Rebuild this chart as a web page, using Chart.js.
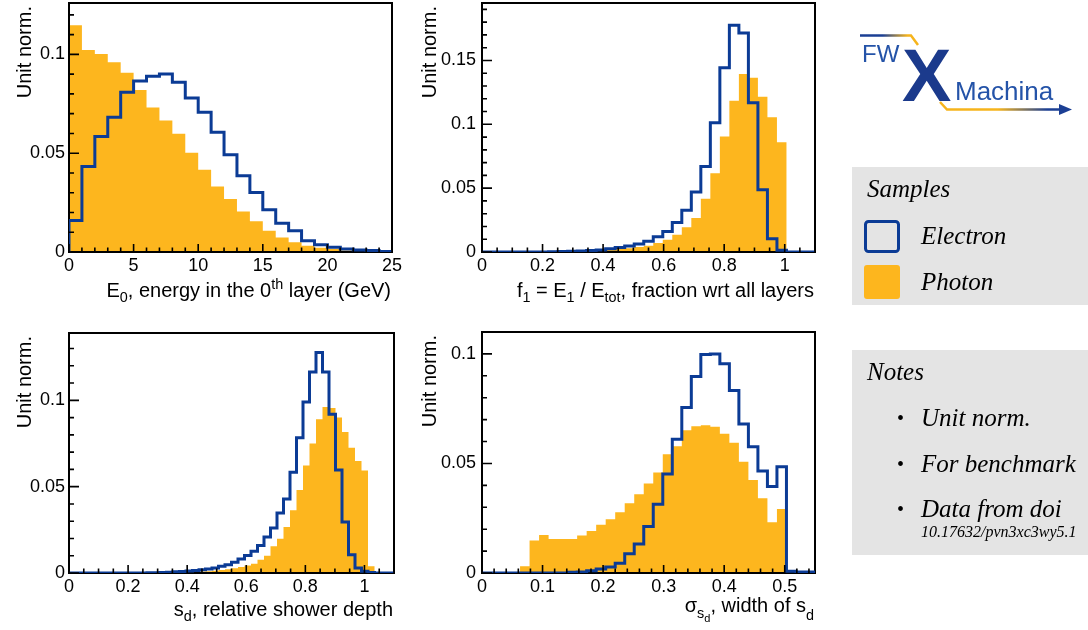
<!DOCTYPE html>
<html>
<head>
<meta charset="utf-8">
<title>Electron / photon shower variables</title>
<script src="https://cdn.jsdelivr.net/npm/chart.js@4.4.1/dist/chart.umd.min.js"></script>
<style>
  html, body { margin: 0; padding: 0; background: #fff; }
  #page { position: relative; width: 1088px; height: 630px; overflow: hidden; }
  canvas { position: absolute; }
  #side { position: absolute; left: 0; top: 0; }
  #side .leg { font-family: 'Liberation Serif', 'Times New Roman', serif; font-style: italic; font-size: 25px; fill: #000; }
  #side .dot { font-family: 'Liberation Serif', serif; font-size: 20px; fill: #000; }
  #side .doi { font-family: 'Liberation Serif', serif; font-style: italic; font-size: 16px; fill: #000; }
  #side .logo { font-family: 'Liberation Sans', Arial, sans-serif; }
</style>
</head>
<body>
<div id="page">
  <canvas id="p1" width="410" height="310" style="left:0;top:0"></canvas>
  <canvas id="p2" width="410" height="310" style="left:410px;top:0"></canvas>
  <canvas id="p3" width="410" height="320" style="left:0;top:310px"></canvas>
  <canvas id="p4" width="410" height="320" style="left:410px;top:310px"></canvas>

  <svg id="side" width="1088" height="630">
    <defs>
      <linearGradient id="topFade" gradientUnits="userSpaceOnUse" x1="860" y1="0" x2="916" y2="0">
        <stop offset="0" stop-color="#1b3f94"/>
        <stop offset="0.4" stop-color="#1b3f94"/>
        <stop offset="0.85" stop-color="#f6b41c"/>
      </linearGradient>
      <linearGradient id="bottomFade" gradientUnits="userSpaceOnUse" x1="942" y1="0" x2="1066" y2="0">
        <stop offset="0" stop-color="#f6b41c"/>
        <stop offset="0.45" stop-color="#f6b41c"/>
        <stop offset="0.85" stop-color="#1b3f94"/>
      </linearGradient>
    </defs>
    <g class="logo">
      <polyline points="860,35.5 911,35.5 918,45" fill="none" stroke="url(#topFade)" stroke-width="2.5"/>
      <polyline points="940,102 947,109.5 1062,109.5" fill="none" stroke="url(#bottomFade)" stroke-width="2.5"/>
      <polygon points="1059,104 1072,109.5 1059,115" fill="#1b3f94"/>
      <text x="862" y="62" font-size="24" fill="#2453a8">FW</text>
      <text x="902" y="101" font-size="74" font-weight="bold" fill="#1b3a8c">X</text>
      <text x="955" y="100" font-size="26" fill="#2453a8">Machina</text>
    </g>

    <rect x="852" y="167" width="236" height="138" fill="#e4e4e4"/>
    <text class="leg" x="867" y="197">Samples</text>
    <rect x="865.5" y="221.5" width="33" height="30" rx="3" fill="none" stroke="#0b3b95" stroke-width="3"/>
    <text class="leg" x="921" y="244">Electron</text>
    <rect x="864" y="265" width="36" height="34" rx="3" fill="#fdb61e"/>
    <text class="leg" x="921" y="290">Photon</text>

    <rect x="852" y="350" width="236" height="205" fill="#e4e4e4"/>
    <text class="leg" x="867" y="380">Notes</text>
    <text class="dot" x="897" y="425">•</text>
    <text class="leg" x="921" y="426">Unit norm.</text>
    <text class="dot" x="897" y="471">•</text>
    <text class="leg" x="921" y="472">For benchmark</text>
    <text class="dot" x="897" y="516">•</text>
    <text class="leg" x="921" y="517">Data from doi</text>
    <text class="doi" x="921" y="537">10.17632/pvn3xc3wy5.1</text>
  </svg>
</div>

<script>
'use strict';

// E0, energy in the 0th layer (GeV): 25 bins over [0, 25]
var e0Range = [0, 25];
var e0Electron = [0.0160, 0.0433, 0.0584, 0.0682, 0.0808, 0.0865, 0.0889, 0.0901, 0.0859, 0.0779,
  0.0707, 0.0606, 0.0492, 0.0386, 0.0301, 0.0214, 0.0146, 0.0108, 0.0057, 0.0037,
  0.0024, 0.0015, 0.0010, 0.0007, 0.0003];
var e0Photon = [0.1148, 0.1022, 0.1002, 0.0960, 0.0907, 0.0820, 0.0731, 0.0665, 0.0598, 0.0502,
  0.0416, 0.0332, 0.0268, 0.0205, 0.0155, 0.0108, 0.0074, 0.0049, 0.0032, 0.0022,
  0.0015, 0.0008, 0.0005, 0.0003, 0.0002];

// f1 = E1 / Etot: 35 bins over [0, 1.1]
var f1Range = [0, 1.1];
var f1Electron = [0, 0, 0, 0, 0, 0, 0, 0.0002, 0.0004, 0.0006,
  0.0008, 0.0011, 0.0015, 0.0025, 0.0035, 0.0047, 0.0062, 0.0085, 0.0120, 0.0161,
  0.0232, 0.0326, 0.0469, 0.0669, 0.1013, 0.1443, 0.1776, 0.1716, 0.1169, 0.0487,
  0.0104, 0.0013, 0, 0, 0];
var f1Photon = [0, 0, 0, 0, 0, 0, 0, 0, 0, 0,
  0.0004, 0.0007, 0.0010, 0.0016, 0.0025, 0.0030, 0.0039, 0.0049, 0.0070, 0.0096,
  0.0135, 0.0193, 0.0266, 0.0417, 0.0617, 0.0904, 0.1185, 0.1393, 0.1365, 0.1216,
  0.1055, 0.0859, 0, 0, 0];

// sd, relative shower depth: 50 bins over [0, 1.1]
var sdRange = [0, 1.1];
var sdElectron = [0, 0, 0, 0, 0, 0, 0, 0, 0, 0,
  0, 0, 0.0001, 0.0002, 0.0003, 0.0005, 0.0007, 0.0009, 0.0012, 0.0015,
  0.0019, 0.0023, 0.0029, 0.0039, 0.0048, 0.0062, 0.0081, 0.0101, 0.0126, 0.0159,
  0.0209, 0.0261, 0.0348, 0.0429, 0.0584, 0.0783, 0.0990, 0.1164, 0.1277, 0.1164,
  0.0919, 0.0596, 0.0296, 0.0106, 0.0029, 0.0010, 0.0003, 0, 0, 0];
var sdPhoton = [0, 0, 0, 0, 0, 0, 0, 0, 0, 0,
  0, 0, 0, 0, 0, 0, 0, 0, 0.0003, 0.0005,
  0.0008, 0.0010, 0.0013, 0.0017, 0.0022, 0.0028, 0.0035, 0.0044, 0.0054, 0.0077,
  0.0100, 0.0155, 0.0199, 0.0267, 0.0364, 0.0480, 0.0623, 0.0750, 0.0890, 0.0961,
  0.0955, 0.0901, 0.0816, 0.0725, 0.0648, 0.0594, 0.0039, 0, 0, 0];

// sigma_sd, width of sd: 35 bins over [0, 0.55]
var sigRange = [0, 0.55];
var sigElectron = [0, 0, 0, 0, 0, 0, 0, 0, 0, 0.0003,
  0.0005, 0.0010, 0.0018, 0.0027, 0.0045, 0.0088, 0.0132, 0.0212, 0.0314, 0.0452,
  0.0611, 0.0755, 0.0897, 0.0997, 0.1000, 0.0955, 0.0833, 0.0680, 0.0576, 0.0466,
  0.0395, 0.0485, 0.0008, 0.0005, 0.0004];
var sigPhoton = [0, 0, 0, 0, 0.0031, 0.0148, 0.0174, 0.0155, 0.0155, 0.0155,
  0.0171, 0.0192, 0.0220, 0.0245, 0.0277, 0.0318, 0.0359, 0.0409, 0.0459, 0.0542,
  0.0579, 0.0652, 0.0670, 0.0674, 0.0668, 0.0636, 0.0594, 0.0508, 0.0424, 0.0341,
  0.0232, 0.0292, 0, 0, 0];

// axis titles: [text, size factor, baseline shift]
var e0Title = [['E', 1, 0], ['0', 0.72, 5], [', energy in the 0', 1, 0], ['th', 0.72, -8], [' layer (GeV)', 1, 0]];
var f1Title = [['f', 1, 0], ['1', 0.72, 5], [' = E', 1, 0], ['1', 0.72, 5], [' / E', 1, 0], ['tot', 0.72, 5], [', fraction wrt all layers', 1, 0]];
var sdTitle = [['s', 1, 0], ['d', 0.72, 5], [', relative shower depth', 1, 0]];
var sigTitle = [['σ', 1, 0], ['s', 0.72, 6], ['d', 0.55, 10], [', width of s', 1, 0], ['d', 0.72, 8]];

var electronColor = '#0b3b95';
var photonColor = '#fdb61e';
var FONT = "'Liberation Sans', Arial, sans-serif";

Chart.defaults.font.family = FONT;
Chart.defaults.font.size = 18;
Chart.defaults.color = '#000';

// outline points for a stepped histogram: start and end on the baseline
function histPoints(values, range) {
  var width = (range[1] - range[0]) / values.length;
  var pts = [{x: range[0], y: 0}];
  for (var i = 0; i < values.length; i++) {
    pts.push({x: range[0] + i * width, y: values[i]});
  }
  pts.push({x: range[1], y: 0});
  return pts;
}

function drawRich(ctx, segs, right, base, size) {
  var widths = [];
  var total = 0;
  segs.forEach(function (s) {
    ctx.font = (size * s[1]) + 'px ' + FONT;
    var w = ctx.measureText(s[0]).width;
    widths.push(w);
    total += w;
  });
  var x = right - total;
  segs.forEach(function (s, i) {
    ctx.font = (size * s[1]) + 'px ' + FONT;
    ctx.fillText(s[0], x, base + s[2]);
    x += widths[i];
  });
}

// frame, inner ticks and titles drawn the way ROOT pads look
var rootFrame = {
  id: 'rootFrame',
  afterDatasetDraw: function (chart, args) {
    if (args.index !== 1) return;
    var a = chart.chartArea;
    var ctx = chart.ctx;
    ctx.save();
    ctx.strokeStyle = '#000';
    ctx.lineWidth = 2;
    ctx.strokeRect(a.left, a.top, a.right - a.left, a.bottom - a.top);
    ctx.restore();
  },
  afterDatasetsDraw: function (chart, args, o) {
    var a = chart.chartArea;
    var ctx = chart.ctx;
    var xs = chart.scales.x;
    var ys = chart.scales.y;
    ctx.save();
    ctx.strokeStyle = '#000';
    ctx.lineWidth = 1.6;
    ctx.beginPath();
    var n = Math.round((xs.max - xs.min) / o.xMinor);
    var per = Math.round(o.xStep / o.xMinor);
    for (var i = 0; i <= n; i++) {
      var px = xs.getPixelForValue(xs.min + i * o.xMinor);
      ctx.moveTo(px, a.bottom);
      ctx.lineTo(px, a.bottom - (i % per === 0 ? 8 : 4.5));
    }
    n = Math.floor((ys.max - ys.min) / o.yMinor + 1e-6);
    per = Math.round(o.yStep / o.yMinor);
    for (var j = 0; j <= n; j++) {
      var py = ys.getPixelForValue(ys.min + j * o.yMinor);
      ctx.moveTo(a.left, py);
      ctx.lineTo(a.left + (j % per === 0 ? 10 : 5), py);
    }
    ctx.stroke();
    ctx.restore();
  },
  afterDraw: function (chart, args, o) {
    var a = chart.chartArea;
    var ctx = chart.ctx;
    ctx.save();
    ctx.fillStyle = '#000';
    ctx.textBaseline = 'alphabetic';
    ctx.textAlign = 'left';
    drawRich(ctx, o.title, a.right - 1, o.titleBase, 20);
    ctx.translate(o.yTitleX, a.top + 3);
    ctx.rotate(-Math.PI / 2);
    ctx.textAlign = 'right';
    ctx.font = '20px ' + FONT;
    ctx.fillText('Unit norm.', 0, 0);
    ctx.restore();
  }
};

var panels = [
  {canvas: 'p1', range: e0Range, electron: e0Electron, photon: e0Photon, yMax: 0.126,
    xStep: 5, xMinor: 1, yStep: 0.05, yMinor: 0.01,
    area: {left: 69, top: 3, right: 392, bottom: 252}, yPad: 4,
    title: e0Title, titleBase: 296.5, yTitleX: 31},
  {canvas: 'p2', range: f1Range, electron: f1Electron, photon: f1Photon, yMax: 0.195,
    xStep: 0.2, xMinor: 0.05, yStep: 0.05, yMinor: 0.01,
    area: {left: 72, top: 3, right: 405, bottom: 252}, yPad: 6,
    title: f1Title, titleBase: 296.5, yTitleX: 26},
  {canvas: 'p3', range: sdRange, electron: sdElectron, photon: sdPhoton, yMax: 0.139,
    xStep: 0.2, xMinor: 0.05, yStep: 0.05, yMinor: 0.01,
    area: {left: 69, top: 23, right: 394, bottom: 263}, yPad: 4,
    title: sdTitle, titleBase: 306, yTitleX: 31},
  {canvas: 'p4', range: sigRange, electron: sigElectron, photon: sigPhoton, yMax: 0.11,
    xStep: 0.1, xMinor: 0.02, yStep: 0.05, yMinor: 0.01,
    area: {left: 72, top: 22, right: 405, bottom: 263}, yPad: 6,
    title: sigTitle, titleBase: 302, yTitleX: 26}
];

function label(v) {
  return String(v);
}

panels.forEach(function (p) {
  var el = document.getElementById(p.canvas);
  var w = el.width;
  var h = el.height;
  var a = p.area;
  new Chart(el, {
    type: 'line',
    data: {
      datasets: [
        {
          label: 'Electron',
          data: histPoints(p.electron, p.range),
          borderColor: electronColor,
          borderWidth: 3,
          borderJoinStyle: 'miter',
          fill: false,
          stepped: 'before',
          pointRadius: 0,
          order: 0
        },
        {
          label: 'Photon',
          data: histPoints(p.photon, p.range),
          borderColor: 'rgba(0,0,0,0)',
          borderWidth: 0,
          backgroundColor: photonColor,
          fill: 'origin',
          stepped: 'before',
          pointRadius: 0,
          order: 1
        }
      ]
    },
    options: {
      responsive: false,
      animation: false,
      events: [],
      layout: {padding: {top: a.top, right: w - a.right, left: 0, bottom: 0}},
      scales: {
        x: {
          type: 'linear',
          min: p.range[0],
          max: p.range[1],
          afterFit: function (s) {
            s.height = h - a.bottom;
            s.paddingLeft = 0;
            s.paddingRight = 0;
          },
          grid: {display: false, drawTicks: false},
          border: {display: false},
          ticks: {stepSize: p.xStep, includeBounds: false, autoSkip: false, maxRotation: 0, padding: 3, callback: label}
        },
        y: {
          type: 'linear',
          min: 0,
          max: p.yMax,
          // keep the frame where it is; the labels may sit in the margins
          afterFit: function (s) {
            s.width = a.left;
            s.paddingTop = 0;
            s.paddingBottom = 0;
          },
          grid: {display: false, drawTicks: false},
          border: {display: false},
          ticks: {stepSize: p.yStep, includeBounds: false, padding: p.yPad, callback: label}
        }
      },
      plugins: {
        legend: {display: false},
        tooltip: {enabled: false},
        rootFrame: {
          xStep: p.xStep, xMinor: p.xMinor, yStep: p.yStep, yMinor: p.yMinor,
          title: p.title, titleBase: p.titleBase, yTitleX: p.yTitleX
        }
      }
    },
    plugins: [rootFrame]
  });
});
</script>
</body>
</html>
